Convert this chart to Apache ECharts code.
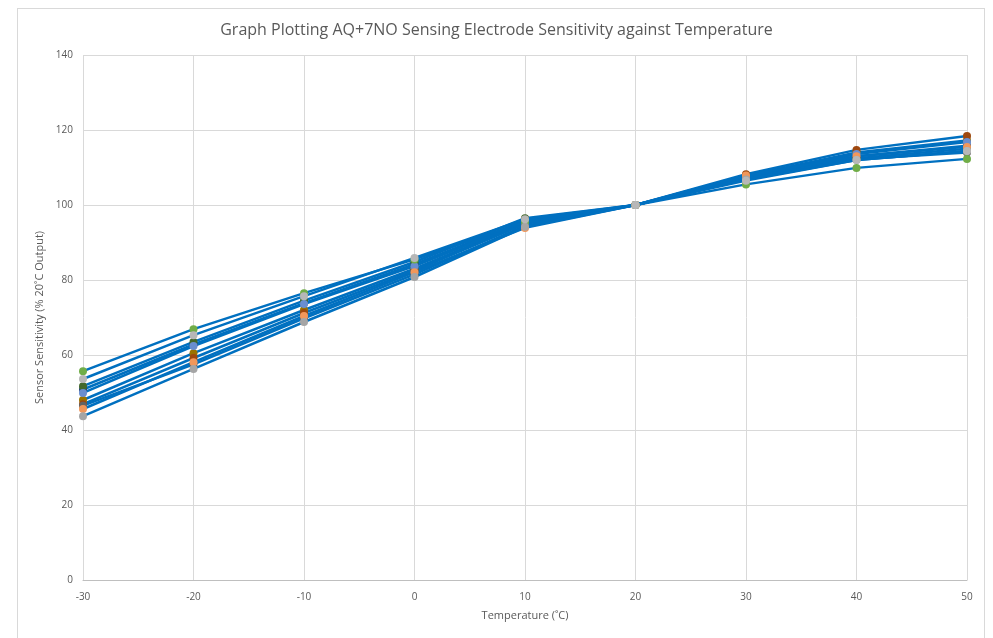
<!DOCTYPE html>
<html>
<head>
<meta charset="utf-8">
<script src="https://cdn.jsdelivr.net/npm/echarts@6/dist/echarts.min.js"></script>
<style>
html,body{margin:0;padding:0;background:#fff;}
#frame{position:absolute;left:17px;top:8px;width:968px;height:640px;border:1px solid #D9D9D9;box-sizing:border-box;}
#chart{position:absolute;left:0;top:0;width:993px;height:638px;}
</style>
</head>
<body>
<div id="frame"></div>
<div id="chart"></div>
<script>
const temperatures = [-30, -20, -10, 0, 10, 20, 30, 40, 50];
const xTicks = [-30, -20, -10, 0, 10, 20, 30, 40, 50];
const yTicks = [0, 20, 40, 60, 80, 100, 120, 140];

const s1 = [48.0, 60.5, 72.0, 83.0, 95.2, 100, 107.8, 114.0, 117.2];
const s2 = [46.9, 59.2, 71.2, 82.5, 95.0, 100, 108.2, 114.7, 118.4];
const s3 = [50.8, 62.8, 73.8, 84.2, 95.8, 100, 107.2, 113.0, 115.8];
const s4 = [46.5, 57.5, 69.8, 81.5, 94.5, 100, 107.0, 112.2, 114.0];
const s5 = [51.7, 63.5, 74.5, 84.8, 96.5, 100, 107.0, 112.5, 115.0];
const s6 = [49.9, 62.4, 73.6, 83.7, 95.5, 100, 107.5, 113.6, 116.8];
const s7 = [45.6, 58.1, 70.4, 82.1, 93.9, 100, 107.9, 113.0, 115.5];
const s8 = [55.7, 66.9, 76.5, 85.5, 95.5, 100, 105.5, 109.9, 112.3];
const s9 = [43.7, 56.3, 68.8, 80.8, 94.2, 100, 106.8, 112.0, 114.4];
const s10 = [53.6, 65.3, 75.7, 85.9, 96.2, 100, 106.5, 112.0, 114.4];

const seriesList = [
  {name: 'Sensor 1', data: s1, color: '#997300'},
  {name: 'Sensor 2', data: s2, color: '#9E480E'},
  {name: 'Sensor 3', data: s3, color: '#264478'},
  {name: 'Sensor 4', data: s4, color: '#636363'},
  {name: 'Sensor 5', data: s5, color: '#43682B'},
  {name: 'Sensor 6', data: s6, color: '#698ED0'},
  {name: 'Sensor 7', data: s7, color: '#F1975A'},
  {name: 'Sensor 8', data: s8, color: '#70AD47'},
  {name: 'Sensor 9', data: s9, color: '#A5A5A5'},
  {name: 'Sensor 10', data: s10, color: '#B7B7B7'}
];

const chart = echarts.init(document.getElementById('chart'), null, {renderer: 'canvas'});
const fontFam = '"Open Sans", "Liberation Sans", sans-serif';
chart.setOption({
  animation: false,
  backgroundColor: 'transparent',
  title: {
    text: 'Graph Plotting AQ+7NO Sensing Electrode Sensitivity against Temperature',
    left: 'center',
    top: 17,
    textStyle: {fontFamily: fontFam, fontSize: 16, fontWeight: 'normal', color: '#595959'}
  },
  grid: {left: 83, right: 26, top: 55, bottom: 58, containLabel: false},
  xAxis: {
    type: 'value',
    min: xTicks[0], max: xTicks[xTicks.length - 1], interval: 10,
    name: 'Temperature (˚C)',
    nameLocation: 'middle',
    nameGap: 30,
    nameTextStyle: {fontFamily: fontFam, fontSize: 11, color: '#595959'},
    axisLine: {show: true, lineStyle: {color: '#BFBFBF', width: 1}},
    axisTick: {show: false},
    axisLabel: {fontFamily: fontFam, fontSize: 10, color: '#595959', margin: 12},
    splitLine: {show: true, lineStyle: {color: '#D9D9D9', width: 1}}
  },
  yAxis: {
    type: 'value',
    min: yTicks[0], max: yTicks[yTicks.length - 1], interval: 20,
    name: 'Sensor Sensitivity (% 20˚C Output)',
    nameLocation: 'middle',
    nameGap: 34,
    nameRotate: 90,
    nameTextStyle: {fontFamily: fontFam, fontSize: 11, color: '#595959'},
    axisLine: {show: false},
    axisTick: {show: false},
    axisLabel: {fontFamily: fontFam, fontSize: 10, color: '#595959', margin: 10},
    splitLine: {show: true, lineStyle: {color: '#D9D9D9', width: 1}}
  },
  series: seriesList.map(s => ({
    name: s.name,
    type: 'line',
    data: temperatures.map((t, i) => [t, s.data[i]]),
    symbol: 'circle',
    symbolSize: 8,
    showAllSymbol: true,
    lineStyle: {color: '#0070C0', width: 2.5},
    itemStyle: {color: s.color},
    emphasis: {disabled: true}
  }))
});
</script>
</body>
</html>
